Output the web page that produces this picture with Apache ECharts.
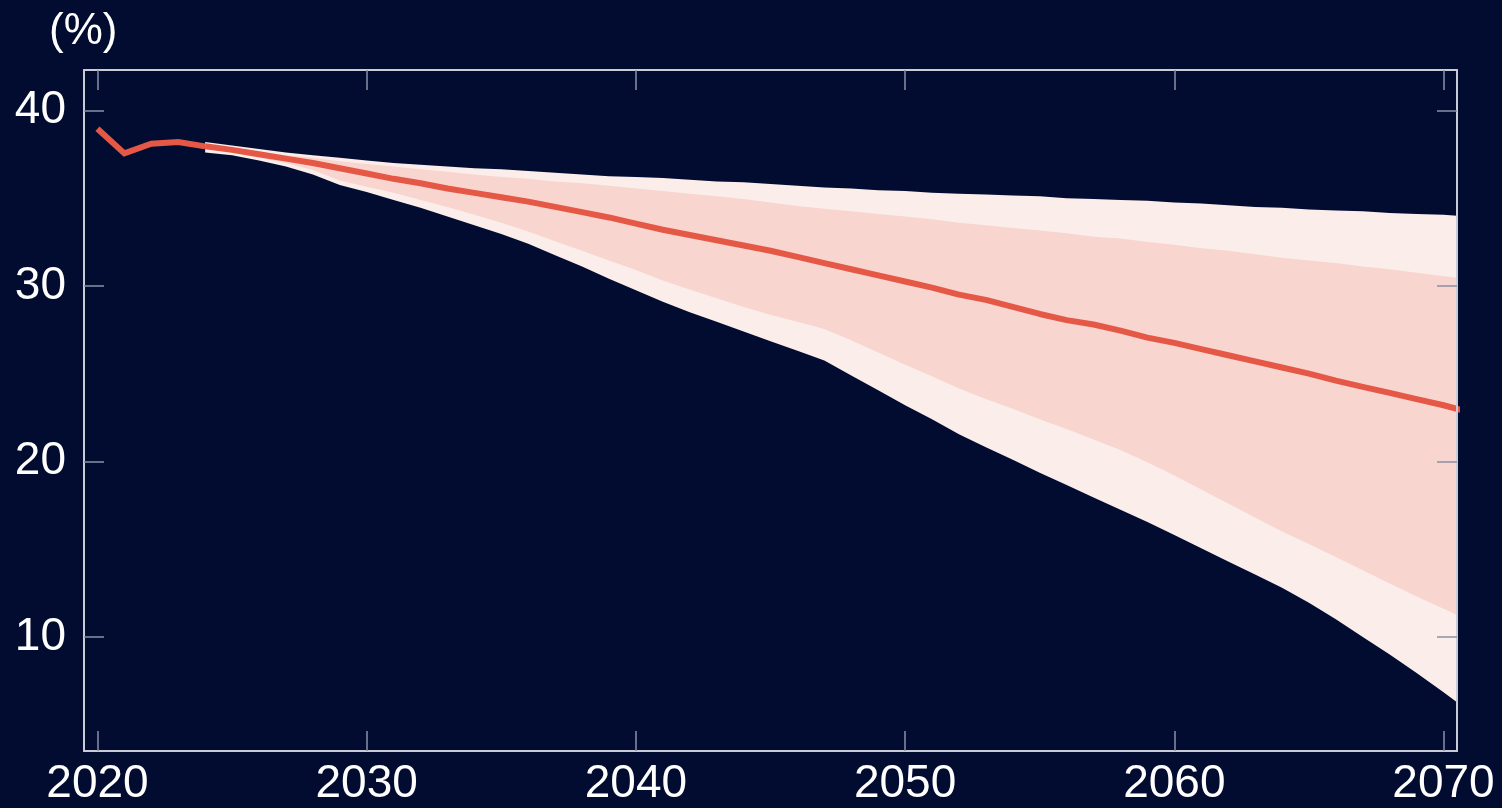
<!DOCTYPE html>
<html>
<head>
<meta charset="utf-8">
<script src="https://cdn.jsdelivr.net/npm/echarts@6/dist/echarts.min.js"></script>
<style>
html,body{margin:0;padding:0;background:#020c31;}
#chart{width:1502px;height:808px;}
</style>
</head>
<body>
<div id="chart"></div>
<script>
// History (outturn)
const histYears = [2020, 2021, 2022, 2023, 2024];
const histValues = [38.95, 37.55, 38.1, 38.2, 37.95];

// Projection years (2071 point lies just past the right edge and is clipped)
const years = [2024,2025,2026,2027,2028,2029,2030,2031,2032,2033,2034,2035,2036,2037,2038,2039,2040,2041,2042,2043,2044,2045,2046,2047,2048,2049,2050,2051,2052,2053,2054,2055,2056,2057,2058,2059,2060,2061,2062,2063,2064,2065,2066,2067,2068,2069,2070,2071];

const median = [37.95,37.75,37.5,37.25,37.0,36.7,36.4,36.1,35.85,35.55,35.3,35.05,34.8,34.5,34.2,33.9,33.55,33.2,32.9,32.6,32.3,32.0,31.65,31.3,30.95,30.6,30.25,29.9,29.5,29.2,28.8,28.4,28.05,27.8,27.45,27.05,26.75,26.4,26.05,25.7,25.35,25.0,24.6,24.25,23.9,23.55,23.2,22.8];

const outerUpper = [38.2,38.0,37.8,37.6,37.45,37.3,37.15,37.0,36.9,36.8,36.7,36.65,36.55,36.45,36.35,36.25,36.2,36.15,36.05,35.95,35.9,35.8,35.7,35.6,35.55,35.45,35.4,35.3,35.25,35.2,35.15,35.1,35.0,34.95,34.9,34.85,34.75,34.7,34.6,34.5,34.45,34.35,34.3,34.25,34.15,34.1,34.05,33.95];

const innerUpper = [38.0,37.85,37.65,37.45,37.3,37.1,36.95,36.8,36.65,36.5,36.35,36.2,36.1,35.95,35.85,35.7,35.55,35.4,35.25,35.1,34.95,34.75,34.55,34.4,34.25,34.1,33.95,33.8,33.6,33.45,33.3,33.15,33.0,32.8,32.7,32.5,32.35,32.15,32.0,31.8,31.6,31.45,31.3,31.1,30.95,30.75,30.55,30.4];

const innerLower = [37.85,37.6,37.3,37.0,36.6,36.0,35.65,35.3,34.9,34.5,34.05,33.6,33.1,32.55,32.0,31.45,30.9,30.3,29.8,29.3,28.8,28.35,27.95,27.55,26.9,26.2,25.5,24.85,24.15,23.55,23.0,22.4,21.85,21.25,20.65,19.95,19.2,18.4,17.6,16.8,16.0,15.3,14.55,13.8,13.05,12.3,11.6,10.9];

const outerLower = [37.6,37.45,37.15,36.8,36.35,35.75,35.35,34.9,34.45,33.95,33.45,32.95,32.4,31.75,31.1,30.4,29.75,29.1,28.5,27.95,27.4,26.85,26.3,25.75,24.9,24.05,23.2,22.4,21.55,20.8,20.1,19.35,18.65,17.95,17.25,16.55,15.8,15.05,14.3,13.55,12.8,11.95,11.0,10.0,9.0,7.95,6.85,5.7];

const xTickValues = [2020, 2030, 2040, 2050, 2060, 2070];
const yTickValues = [10, 20, 30, 40];
const yUnit = '(%)';

const BG = '#020c31';
const AXIS = '#c9ccd6';
const TICK = '#8a90a6';
const LINE = '#e65846';
const OUTER = '#fbedea';
const INNER = '#f8d5ce';
const FONT = '"Liberation Sans", Arial, sans-serif';

const pairs = (xs, ys) => xs.map((x, i) => [x, ys[i]]);

// Fan band: polygon between an upper and lower bound, placed with the axes' scales
const bandSeries = (name, upper, lower, color, z) => ({
  name, type: 'custom', silent: true, clip: true, z: z,
  data: pairs(years, upper).slice(0, 1),
  renderItem: (params, api) => {
    const pts = [];
    for (let i = 0; i < years.length; i++) pts.push(api.coord([years[i], upper[i]]));
    for (let i = years.length - 1; i >= 0; i--) pts.push(api.coord([years[i], lower[i]]));
    return { type: 'polygon', shape: { points: pts }, style: { fill: color, stroke: null } };
  }
});

const xAxisBase = {
  type: 'value', min: 2019.5, max: 2070.5, z: 20,
  axisLine: { show: true, onZero: false, lineStyle: { color: AXIS, width: 2 } },
  axisTick: { show: true, inside: true, length: 20, customValues: xTickValues, lineStyle: { color: TICK, width: 1.5 } },
  splitLine: { show: false }
};
const yAxisBase = {
  type: 'value', min: 3.5, max: 42.3, z: 20,
  axisLine: { show: true, onZero: false, lineStyle: { color: AXIS, width: 2 } },
  axisTick: { show: true, inside: true, length: 20, customValues: yTickValues, lineStyle: { color: TICK, width: 1.5 } },
  splitLine: { show: false }
};

const chart = echarts.init(document.getElementById('chart'), null, { renderer: 'canvas' });
chart.setOption({
  backgroundColor: BG,
  animation: false,
  grid: { left: 84, right: 45, top: 70, bottom: 57, containLabel: false },
  graphic: [{
    type: 'text', left: 49, top: 10,
    style: { text: yUnit, fill: '#ffffff', font: '44px ' + FONT }
  }],
  xAxis: [
    Object.assign({}, xAxisBase, {
      position: 'bottom',
      axisLabel: { show: true, customValues: xTickValues, color: '#ffffff', fontSize: 46, fontFamily: FONT, margin: 10, formatter: v => String(v) }
    }),
    Object.assign({}, xAxisBase, { position: 'top', axisLabel: { show: false } })
  ],
  yAxis: [
    Object.assign({}, yAxisBase, {
      position: 'left',
      axisLabel: { show: true, customValues: yTickValues, color: '#ffffff', fontSize: 46, fontFamily: FONT, margin: 18 }
    }),
    Object.assign({}, yAxisBase, { position: 'right', axisLabel: { show: false } })
  ],
  series: [
    bandSeries('outer band', outerUpper, outerLower, OUTER, 1),
    bandSeries('inner band', innerUpper, innerLower, INNER, 2),
    {
      name: 'history', type: 'line', data: pairs(histYears, histValues),
      symbol: 'none', lineStyle: { color: LINE, width: 6, join: 'miter' }, z: 6
    },
    {
      name: 'median', type: 'line', data: pairs(years, median),
      symbol: 'none', lineStyle: { color: LINE, width: 6 }, z: 6
    }
  ]
});
</script>
</body>
</html>
